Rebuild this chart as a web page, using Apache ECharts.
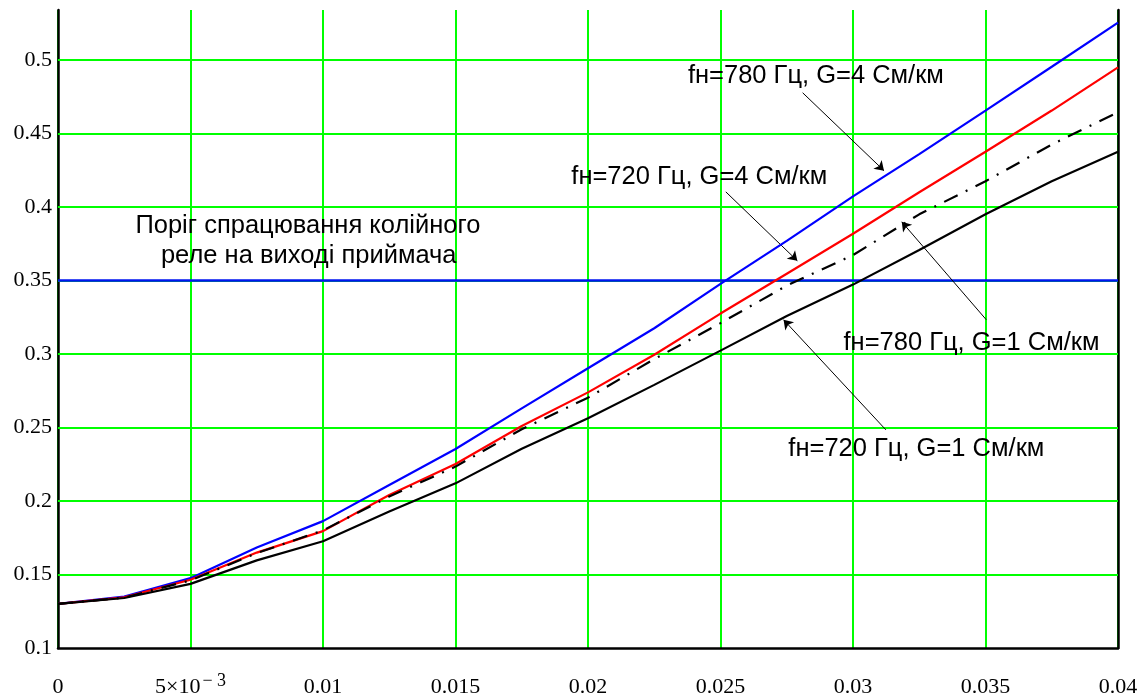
<!DOCTYPE html>
<html>
<head>
<meta charset="utf-8">
<script src="https://cdn.jsdelivr.net/npm/echarts@6/dist/echarts.min.js"></script>
<style>
html,body{margin:0;padding:0;background:#fff;}
#chart{width:1145px;height:699px;}
</style>
</head>
<body>
<div id="chart"></div>
<script>
// ---- data ----
var xValues = [0, 0.0025, 0.005, 0.0075, 0.01, 0.0125, 0.015, 0.0175, 0.02, 0.0225, 0.025, 0.0275, 0.03, 0.0325, 0.035, 0.0375, 0.04];
var f780G4 = [0.13, 0.135, 0.1475, 0.1683, 0.1863, 0.2109, 0.2354, 0.263, 0.2903, 0.3175, 0.3477, 0.377, 0.4072, 0.436, 0.4656, 0.4954, 0.5254];
var f720G4 = [0.13, 0.1345, 0.1464, 0.1649, 0.1795, 0.2041, 0.2252, 0.251, 0.2739, 0.2995, 0.3275, 0.3546, 0.3818, 0.41, 0.4376, 0.4656, 0.495];
var f780G1 = [0.13, 0.1343, 0.146, 0.1645, 0.18, 0.203, 0.2234, 0.2488, 0.2703, 0.2965, 0.321, 0.3465, 0.3673, 0.395, 0.4175, 0.4425, 0.4645];
var f720G1 = [0.13, 0.134, 0.1436, 0.1596, 0.1726, 0.1928, 0.212, 0.2355, 0.2563, 0.279, 0.3023, 0.3258, 0.3472, 0.3707, 0.395, 0.4175, 0.4376];
var threshold = 0.35;
var xTicks = [0, 0.005, 0.01, 0.015, 0.02, 0.025, 0.03, 0.035, 0.04];
var xTickLabels = ['0', '5×10^−3', '0.01', '0.015', '0.02', '0.025', '0.03', '0.035', '0.04'];
var yTicks = [0.1, 0.15, 0.2, 0.25, 0.3, 0.35, 0.4, 0.45, 0.5];
var yTickLabels = ['0.1', '0.15', '0.2', '0.25', '0.3', '0.35', '0.4', '0.45', '0.5'];
var seriesNames = ['fн=780 Гц, G=4 См/км', 'fн=720 Гц, G=4 См/км', 'fн=780 Гц, G=1 См/км', 'fн=720 Гц, G=1 См/км'];
var thresholdText = ['Поріг спрацювання колійного', 'реле на виході приймача'];

function pairs(ys){ return xValues.map(function(x,i){ return [x, ys[i]]; }); }

var chart = echarts.init(document.getElementById('chart'), null, {renderer:'canvas'});
var serif = '"Liberation Serif","Times New Roman",serif';
var sans = '"Liberation Sans",Arial,sans-serif';

var option = {
  animation:false,
  backgroundColor:'#fff',
  grid:{left:58, right:27, top:10, bottom:51, containLabel:false, outerBoundsMode:'none'},
  xAxis:{
    type:'value', min:0, max:0.04, interval:0.005,
    axisLine:{show:true, onZero:false, lineStyle:{color:'#000', width:2.5}},
    axisTick:{show:false},
    splitLine:{show:true, lineStyle:{color:'#00ff00', width:2}},
    axisLabel:{
      margin:24, color:'#000', fontFamily:serif, fontSize:22,
      formatter:function(v){
        var i = xTicks.findIndex(function(t){return Math.abs(t-v)<1e-9;});
        if(i<0) return '';
        var s = xTickLabels[i];
        if(s.indexOf('^')>=0){ var p=s.split('^'); return '{a|'+p[0]+'}{b|'+p[1].replace('−','− ')+'}'; }
        return '{a|'+s+'}';
      },
      rich:{
        a:{fontFamily:serif, fontSize:22, color:'#000', lineHeight:26, verticalAlign:'bottom'},
        b:{fontFamily:serif, fontSize:18, color:'#000', lineHeight:26, verticalAlign:'top', padding:[0,0,16,2]}
      }
    }
  },
  yAxis:[{
    type:'value', min:0.1, max:0.534, interval:0.05,
    axisLine:{show:true, onZero:false, lineStyle:{color:'#000', width:2.5}},
    axisTick:{show:false},
    splitLine:{show:false},
    axisLabel:{
      margin:6, color:'#000', fontFamily:serif, fontSize:22,
      formatter:function(v){
        var i = yTicks.findIndex(function(t){return Math.abs(t-v)<1e-9;});
        return i<0 ? '' : yTickLabels[i];
      }
    }
  },{
    type:'value', min:0.1, max:0.534, position:'right',
    axisLine:{show:true, onZero:false, lineStyle:{color:'#000', width:2.5}},
    axisTick:{show:false}, axisLabel:{show:false}, splitLine:{show:false}
  }],
  series:[
    {
      name:'grid', type:'line', data:[], z:1, silent:true,
      markLine:{
        silent:true, symbol:['none','none'], animation:false,
        label:{show:false},
        lineStyle:{color:'#00ff00', width:2, type:'solid'},
        data: yTicks.slice(1).map(function(v){ return {yAxis:v}; })
      }
    },
    {
      name:'threshold', type:'line', data:[], z:2, silent:true,
      markLine:{
        silent:true, symbol:['none','none'], animation:false,
        label:{show:false},
        lineStyle:{color:'#0014f0', width:2.5, type:'solid'},
        data:[{yAxis:threshold}]
      }
    },
    {name:seriesNames[0], type:'line', data:pairs(f780G4), showSymbol:false, z:5,
      lineStyle:{color:'#0000ff', width:2.2}},
    {name:seriesNames[1], type:'line', data:pairs(f720G4), showSymbol:false, z:5,
      lineStyle:{color:'#ff0000', width:2.2}},
    {name:seriesNames[2], type:'line', data:pairs(f780G1), showSymbol:false, z:5,
      lineStyle:{color:'#000', width:2.2, type:[15,9,2,9]}},
    {name:seriesNames[3], type:'line', data:pairs(f720G1), showSymbol:false, z:5,
      lineStyle:{color:'#000', width:2.2}},
    {
      name:'arrows', type:'line', data:[], z:6, silent:true,
      markLine:{
        silent:true, symbol:['none','arrow'], symbolSize:9, animation:false,
        label:{show:false},
        lineStyle:{color:'#000', width:1, type:'solid'},
        data:[
          [{coord:[0.0281,0.4777]},{coord:[0.03117,0.4247]}],
          [{coord:[0.0252,0.4103]},{coord:[0.0279,0.3634]}],
          [{coord:[0.03503,0.3233]},{coord:[0.03184,0.3899]}],
          [{coord:[0.03124,0.2484]},{coord:[0.02738,0.3233]}]
        ]
      }
    }
  ]
};
chart.setOption(option);

var labelAnchors = [[0.0286,0.4888],[0.0242,0.4207],[0.03447,0.3078],[0.03239,0.2357]];
var graphics = [];
labelAnchors.forEach(function(c,i){
  var p = chart.convertToPixel({gridIndex:0}, c);
  graphics.push({type:'text', x:p[0], y:p[1], z:10,
    style:{text:seriesNames[i], fill:'#000', font:'25.5px '+sans, textAlign:'center', textVerticalAlign:'middle'}});
});
var tp1 = chart.convertToPixel({gridIndex:0}, [0.00943, 0.3868]);
var tp2 = chart.convertToPixel({gridIndex:0}, [0.00946, 0.3664]);
graphics.push({type:'text', x:tp1[0], y:tp1[1], z:10,
  style:{text:thresholdText[0], fill:'#000', font:'25.5px '+sans, textAlign:'center', textVerticalAlign:'middle'}});
graphics.push({type:'text', x:tp2[0], y:tp2[1], z:10,
  style:{text:thresholdText[1], fill:'#000', font:'25.5px '+sans, textAlign:'center', textVerticalAlign:'middle'}});
chart.setOption({graphic:graphics});
</script>
</body>
</html>
